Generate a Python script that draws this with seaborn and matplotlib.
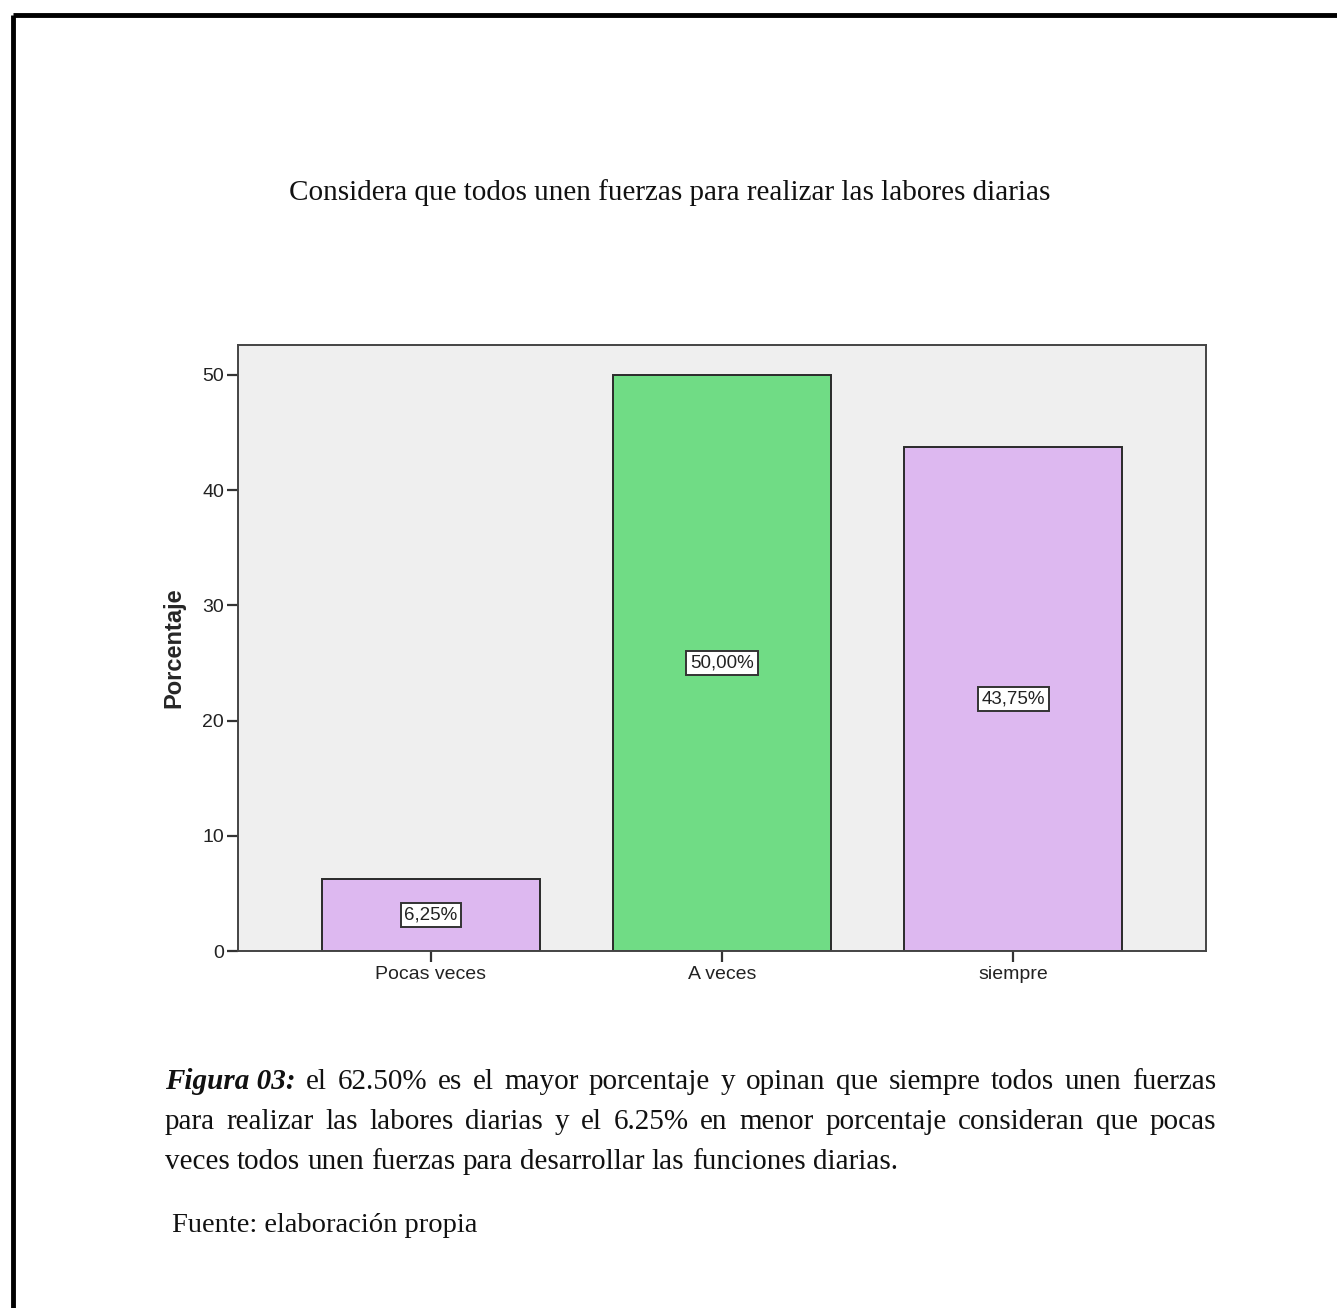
import matplotlib
matplotlib.use("Agg")
import matplotlib.pyplot as plt
import seaborn as sns
import pandas as pd
from matplotlib.lines import Line2D

categories = ["Pocas veces", "A veces", "siempre"]
percentages = [6.25, 50.00, 43.75]
bar_labels = ["6,25%", "50,00%", "43,75%"]
bar_colors = ["#DDB8F0", "#70DC85", "#DDB8F0"]
y_ticks = [0, 10, 20, 30, 40, 50]

title_text = "Considera que todos unen fuerzas para realizar las labores diarias"
caption_lines = [
    "el 62.50% es el mayor porcentaje y opinan que siempre todos unen fuerzas",
    "para realizar las labores diarias y el 6.25% en menor porcentaje consideran que pocas",
    "veces todos unen fuerzas para desarrollar las funciones diarias.",
]
caption_lead = "Figura 03:"
source_text = "Fuente: elaboración propia"

sns.set_theme(style="white")
plt.rcParams["font.family"] = ["Liberation Sans", "DejaVu Sans"]

W, H = 1337, 1308
fig = plt.figure(figsize=(W / 100, H / 100), dpi=100)

def fx(px):
    return px / W

def fy(py):
    return 1 - py / H

# page frame (top and left rules)
fig.add_artist(Line2D([fx(13), 1], [fy(15), fy(15)], transform=fig.transFigure,
                      color="black", lw=3.5, solid_capstyle="butt"))
fig.add_artist(Line2D([fx(13), fx(13)], [fy(15), 0], transform=fig.transFigure,
                      color="black", lw=3.5, solid_capstyle="butt"))

ax = fig.add_axes([fx(238), fy(951), fx(1206) - fx(238), fy(345) - fy(951)])
ax.set_facecolor("#EFEFEF")

df = pd.DataFrame({"cat": categories, "pct": percentages})
sns.barplot(data=df, x="cat", y="pct", hue="cat", palette=bar_colors, legend=False,
            width=0.75, edgecolor="#2a2a2a", linewidth=1.4, ax=ax, saturation=1)

ax.set_xlim(-0.663, 2.663)
ax.set_ylim(0, 52.6)
ax.set_yticks(y_ticks)
ax.set_xlabel("")
ax.set_ylabel("Porcentaje", fontsize=17, fontweight="bold", labelpad=12)
for s in ax.spines.values():
    s.set_color("#444444")
    s.set_linewidth(1.4)
ax.tick_params(axis="both", which="both", length=8, width=1.6, color="#333333",
               labelsize=14, labelcolor="#222222", direction="out",
               bottom=True, left=True)
ax.tick_params(axis="x", pad=3)
ax.tick_params(axis="y", pad=2)

for i, (v, lab) in enumerate(zip(percentages, bar_labels)):
    ax.text(i, v / 2, lab, ha="center", va="center", fontsize=13.5, color="#222222",
            bbox=dict(boxstyle="square,pad=0.2", facecolor="white",
                      edgecolor="#333333", linewidth=1.4))

fig.text(fx(670), fy(193), title_text, ha="center", va="center",
         family=["Liberation Serif"], fontsize=21, color="#111111")

# justified caption paragraph
fig.canvas.draw()
renderer = fig.canvas.get_renderer()
left_px, right_px = 165, 1216
line_y = [1089, 1129, 1169]
fsz = 21

def word_width(word, **kw):
    t = fig.text(0, 0, word, fontsize=fsz, family=["Liberation Serif"], **kw)
    w = t.get_window_extent(renderer).width
    t.remove()
    return w

for li, (line, yy) in enumerate(zip(caption_lines, line_y)):
    words = line.split(" ")
    items = []
    if li == 0:
        items.append((caption_lead, dict(fontweight="bold", fontstyle="italic")))
    items += [(w, {}) for w in words]
    widths = [word_width(w, **kw) for w, kw in items]
    total = sum(widths)
    justify = li < len(caption_lines) - 1
    if justify:
        gap = (right_px - left_px - total) / (len(items) - 1)
    else:
        gap = word_width("a a") - 2 * word_width("a")
    x = left_px
    for (w, kw), wd in zip(items, widths):
        fig.text(fx(x), fy(yy), w, ha="left", va="baseline", fontsize=fsz,
                 family=["Liberation Serif"], color="#111111", **kw)
        x += wd + gap

fig.text(fx(172), fy(1232), source_text, ha="left", va="baseline", fontsize=20.5,
         family=["Liberation Serif"], color="#111111")

fig.savefig("out.png", dpi=100, facecolor="white")
